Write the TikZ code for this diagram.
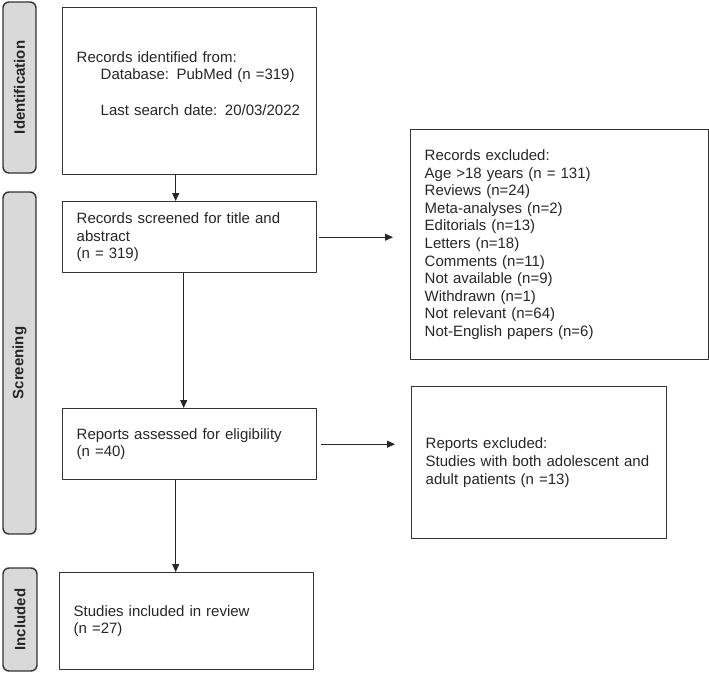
\documentclass[tikz,border=0pt]{standalone}
\usepackage{fontspec}
\setmainfont{Liberation Sans}
\usetikzlibrary{arrows.meta}
\begin{document}
\begin{tikzpicture}[x=1pt,y=-1pt,font=\fontsize{15}{17.6}\selectfont,line join=round,>={Triangle[length=8pt,width=7pt]},
	box/.style={draw=black!80,line width=1.4pt,anchor=north west,align=left,inner xsep=14pt,inner ysep=0pt,text=black!85},
	phase/.style={draw=black!80,fill=black!15,line width=1.4pt,rounded corners=6pt,rotate=90,text=black!85,font=\fontsize{15}{17}\selectfont\bfseries},
	link/.style={->,draw=black!85,line width=0.9pt}]
	\useasboundingbox (0,0) rectangle (709,672);
	\node[phase,minimum width=171pt,minimum height=33pt] (pI) at (19.5,87.5) {Identification};
	\node[phase,minimum width=342pt,minimum height=33pt] (pS) at (19.5,363) {Screening};
	\node[phase,minimum width=103pt,minimum height=34pt] (pN) at (20,619.5) {Included};
	\node[box,minimum width=254pt,minimum height=167pt,text width=226pt] (iden) at (62,7) {Records identified from:\\
		\hspace*{24pt}Database: PubMed (n =319)\\[17.6pt]
		\hspace*{24pt}Last search date: 20/03/2022\\[-1.6pt]\mbox{}};
	\node[box,minimum width=254pt,minimum height=71pt,text width=226pt] (scr) at (62,201) {Records screened for title and\\abstract\\(n = 319)};
	\node[box,minimum width=254pt,minimum height=71pt,text width=226pt] (elig) at (62,408) {Reports assessed for eligibility\\(n =40)};
	\node[box,minimum width=254pt,minimum height=97pt,text width=226pt] (incl) at (59,572) {Studies included in review\\(n =27)};
	\node[box,minimum width=298pt,minimum height=230pt,text width=270pt] (exA) at (410,129) {Records excluded:\\Age >18 years (n = 131)\\Reviews (n=24)\\Meta-analyses (n=2)\\Editorials (n=13)\\Letters (n=18)\\Comments (n=11)\\Not available (n=9)\\Withdrawn (n=1)\\Not relevant (n=64)\\Not-English papers (n=6)};
	\node[box,minimum width=255pt,minimum height=152pt,text width=227pt] (exB) at (411,386) {Reports excluded:\\Studies with both adolescent and\\adult patients (n =13)};
	\draw[link] ([xshift=-14pt]iden.south) -- ([xshift=-14pt]scr.north);
	\draw[link] ([xshift=-6pt]scr.south) -- ([xshift=-6pt]elig.north);
	\draw[link] ([xshift=-14pt]elig.south) -- ([xshift=-14pt]elig.south |- incl.north);
	\draw[link] ([xshift=2pt]scr.east) -- ([xshift=-17pt]scr.east -| exA.west);
	\draw[link] ([xshift=4pt]elig.east) -- ([xshift=-16pt]elig.east -| exB.west);
\end{tikzpicture}
\end{document}
